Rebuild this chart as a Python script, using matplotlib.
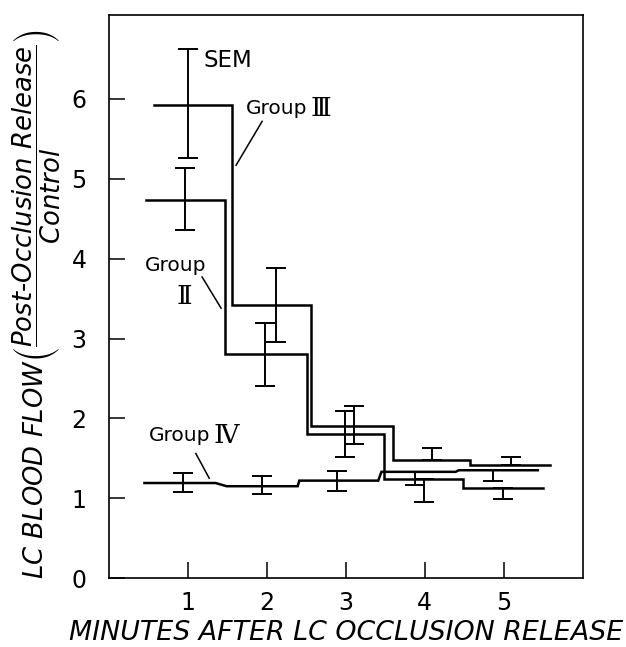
import numpy as np
import matplotlib
matplotlib.use("Agg")
import matplotlib.pyplot as plt

# x ticks
minutes = [1, 2, 3, 4, 5]
y_ticks = [0, 1, 2, 3, 4, 5, 6]

# step outlines: edges in minutes, one level per interval
g3_edges  = [0.57, 1.56, 2.56, 3.60, 4.57, 5.58]
g3_levels = [5.92, 3.42, 1.90, 1.48, 1.41]
g2_edges  = [0.47, 1.47, 2.51, 3.48, 4.48, 5.49]
g2_levels = [4.73, 2.80, 1.81, 1.24, 1.13]
g4_edges  = [0.45, 1.42, 2.40, 3.43, 4.41, 5.43]
g4_levels = [1.19, 1.15, 1.22, 1.33, 1.35]

# SEM bars: position, mean, lower / upper extent
g3_sem_x  = [1.00, 2.11, 3.10, 4.09, 5.09]
g3_sem_y  = [5.93, 3.42, 1.91, 1.48, 1.41]
g3_sem_lo = [0.67, 0.47, 0.23, 0.00, 0.00]
g3_sem_hi = [0.69, 0.46, 0.24, 0.15, 0.10]

g2_sem_x  = [0.96, 1.97, 2.99, 3.99, 4.99]
g2_sem_y  = [4.73, 2.80, 1.81, 1.24, 1.13]
g2_sem_lo = [0.37, 0.40, 0.30, 0.29, 0.14]
g2_sem_hi = [0.40, 0.39, 0.28, 0.00, 0.00]

g4_sem_x  = [0.94, 1.94, 2.89, 3.87, 4.86]
g4_sem_y  = [1.19, 1.15, 1.22, 1.33, 1.35]
g4_sem_lo = [0.11, 0.10, 0.13, 0.17, 0.14]
g4_sem_hi = [0.12, 0.13, 0.12, 0.00, 0.00]


def step_xy(edges, levels, ramp):
    xs, ys = [edges[0]], [levels[0]]
    for i in range(1, len(levels)):
        xs += [edges[i] - ramp[i - 1], edges[i] + ramp[i - 1]]
        ys += [levels[i - 1], levels[i]]
    xs.append(edges[-1])
    ys.append(levels[-1])
    return xs, ys


fig = plt.figure(figsize=(6.26, 6.47), dpi=100)
ax = fig.add_axes([0.174, 0.1066, 0.757, 0.870])

groups = [
    (g3_edges, g3_levels, [0, 0, 0, 0], g3_sem_x, g3_sem_y, g3_sem_lo, g3_sem_hi),
    (g2_edges, g2_levels, [0, 0, 0, 0], g2_sem_x, g2_sem_y, g2_sem_lo, g2_sem_hi),
    (g4_edges, g4_levels, [0.07, 0.01, 0.02, 0.02], g4_sem_x, g4_sem_y, g4_sem_lo, g4_sem_hi),
]
for edges, levels, ramp, sx, sy, slo, shi in groups:
    xs, ys = step_xy(edges, levels, ramp)
    ax.plot(xs, ys, color="black", lw=1.8, solid_joinstyle="miter")
    ax.errorbar(sx, sy, yerr=[slo, shi], fmt="none", ecolor="black",
                elinewidth=1.4, capsize=7.5, capthick=1.4)

ax.set_xlim(0, 6)
ax.set_ylim(0, 7.05)
ax.set_xticks(minutes)
ax.set_yticks(y_ticks)
ax.tick_params(direction="in", length=11.5, width=1.1, labelsize=17)
ax.tick_params(axis="x", pad=9)
ax.tick_params(axis="y", pad=16)
for sp in ax.spines.values():
    sp.set_linewidth(1.2)

ax.set_xlabel("MINUTES AFTER LC OCCLUSION RELEASE", fontsize=19.4,
              style="italic", labelpad=4)
ylab = (r"$\mathit{LC\ BLOOD\ FLOW}\left(\dfrac{\mathit{Post" + "\u2010"
        + r"Occlusion\ Release}}{\mathit{Control}}\right)$")
ax.set_ylabel(ylab, fontsize=18.6)
ax.yaxis.set_label_coords(-0.097, 0.487)

lab = dict(fontsize=14.5, family="DejaVu Sans")
num = dict(fontsize=19, family=["DejaVu Serif", "DejaVu Sans"])
ax.text(1.20, 6.48, "SEM", fontsize=16.5, va="center", ha="left")
ax.text(1.74, 5.88, "Group", va="center", ha="left", **lab)
ax.text(2.55, 5.88, "\u2162", va="center", ha="left", **num)
ax.plot([1.94, 1.61], [5.72, 5.17], color="black", lw=1.1)
ax.text(0.46, 3.92, "Group", va="center", ha="left", **lab)
ax.text(0.95, 3.52, "\u2161", va="center", ha="center", **num)
ax.plot([1.18, 1.42], [3.77, 3.38], color="black", lw=1.1)
ax.text(0.50, 1.79, "Group", va="center", ha="left", **lab)
ax.text(1.33, 1.79, "\u2163", va="center", ha="left", **num)
ax.plot([1.10, 1.27], [1.56, 1.25], color="black", lw=1.1)

fig.savefig("out.png", dpi=100)
